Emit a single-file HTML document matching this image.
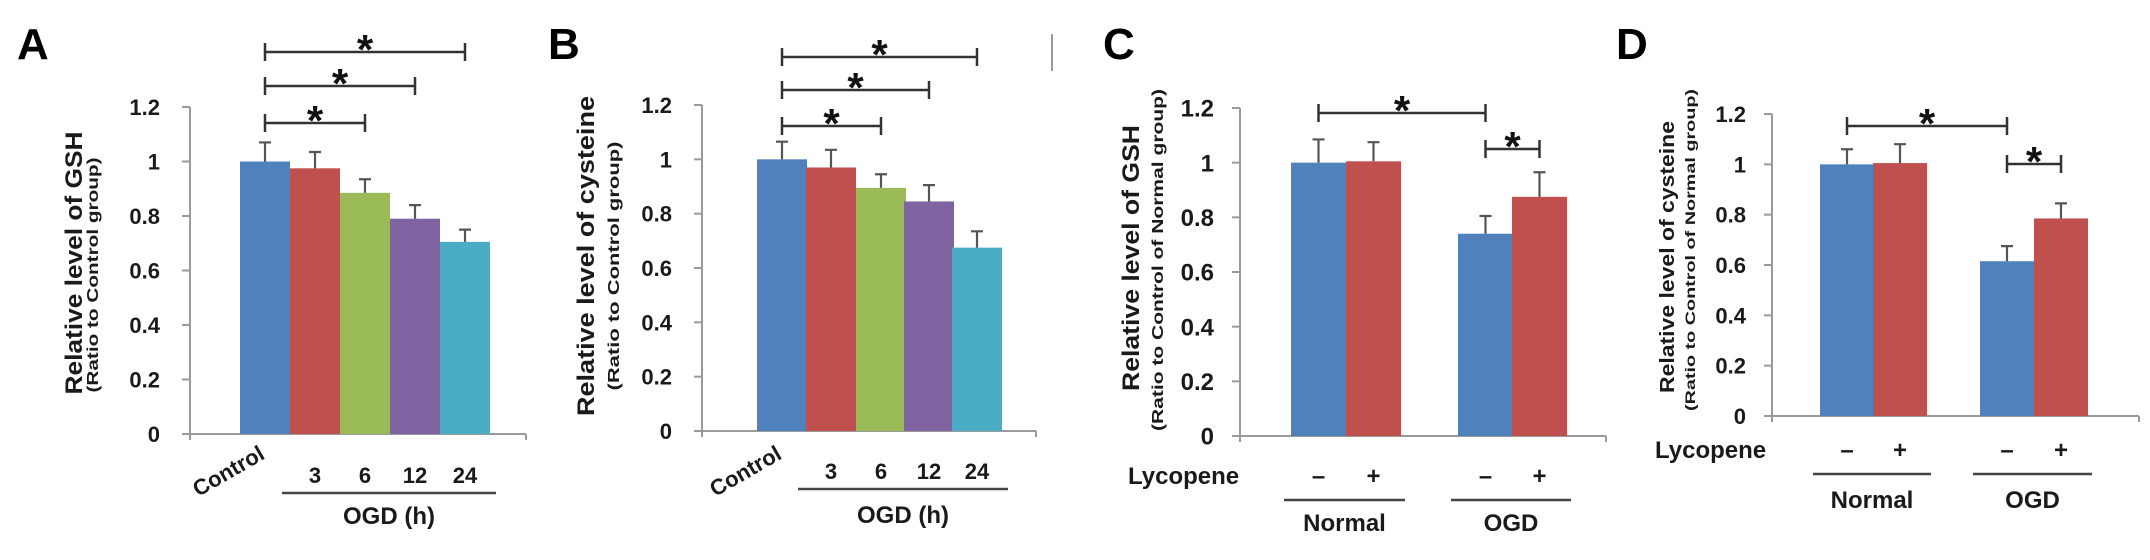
<!DOCTYPE html>
<html><head><meta charset="utf-8"><style>
html,body{margin:0;padding:0;background:#fff}
svg{display:block;font-family:"Liberation Sans",sans-serif;font-weight:bold}
</style></head><body>
<svg id="fig" width="2150" height="560" viewBox="0 0 2150 560" xmlns="http://www.w3.org/2000/svg">
<line x1="1052" y1="34" x2="1052" y2="71" stroke="#999" stroke-width="2"/>
</svg>
<script>
const yTicks = [0, 0.2, 0.4, 0.6, 0.8, 1, 1.2];
const yTickLabels = ["0", "0.2", "0.4", "0.6", "0.8", "1", "1.2"];
const timeCats = ["Control", "3", "6", "12", "24"];
const lycoCats = ["–", "+", "–", "+"];
const aValues = [1.0, 0.975, 0.885, 0.79, 0.705];
const aErrors = [0.07, 0.06, 0.05, 0.05, 0.045];
const bValues = [1.0, 0.97, 0.895, 0.845, 0.675];
const bErrors = [0.065, 0.065, 0.05, 0.06, 0.06];
const cValues = [1.0, 1.005, 0.74, 0.875];
const cErrors = [0.085, 0.07, 0.065, 0.09];
const dValues = [1.0, 1.005, 0.615, 0.785];
const dErrors = [0.06, 0.075, 0.06, 0.06];
const aSig = [[0, 4], [0, 3], [0, 2]];
const bSig = [[0, 4], [0, 3], [0, 2]];
const cSig = [[0, 2], [2, 3]];
const dSig = [[0, 2], [2, 3]];

const NS = "http://www.w3.org/2000/svg";
const svg = document.getElementById('fig');
const timeColors = ["#4F81BD", "#C0504D", "#9BBB59", "#8064A2", "#4BACC6"];
const lycoColors = ["#4F81BD", "#C0504D", "#4F81BD", "#C0504D"];

function mk(tag, attrs, parent) {
  const e = document.createElementNS(NS, tag);
  for (const k in attrs) e.setAttribute(k, attrs[k]);
  (parent || svg).appendChild(e);
  return e;
}

function panel(p) {
  const g = mk('g', {});
  
  
  const ys = v => p.y0 - (v / 1.2) * (p.y0 - p.y12);
  const xs = i => p.barX[i];
  const bw = p.barW;
  const L = mk('text', {x: p.letterX, y: 59, 'font-size': 44, fill: '#000'}, g);
  L.textContent = p.id;
  
  
  const ya = mk('line', {x1: p.axX, y1: p.y12, x2: p.axX, y2: p.y0 + 6, stroke: '#9a9a9a', 'stroke-width': 2}, g);
  
  
  const xa = mk('line', {x1: p.axX - 8, y1: p.y0, x2: p.axRight, y2: p.y0, stroke: '#9a9a9a', 'stroke-width': 2}, g);
  
  
  mk('line', {x1: p.axRight, y1: p.y0, x2: p.axRight, y2: p.y0 + 6, stroke: '#9a9a9a', 'stroke-width': 2}, g);
  yTicks.forEach((t, i) => {
    const y = ys(t);
    mk('line', {x1: p.axX - 8, y1: y, x2: p.axX, y2: y, stroke: '#9a9a9a', 'stroke-width': 2}, g);
    const tl = mk('text', {x: p.axX - p.lblGap, y: y + p.tickFs * 0.36, 'font-size': p.tickFs, 'text-anchor': 'end', fill: '#1a1a1a'}, g);
    tl.textContent = yTickLabels[i];
    
    
  });
  const t1 = mk('text', {x: 0, y: 0, 'font-size': p.titleFs, 'text-anchor': 'middle', fill: '#1a1a1a', textLength: p.t1Len, lengthAdjust: 'spacingAndGlyphs', transform: `translate(${p.t1X},${p.t1C}) rotate(-90)`}, g);
  t1.textContent = p.title;
  
  
  const t2 = mk('text', {x: 0, y: 0, 'font-size': p.subFs, 'text-anchor': 'middle', fill: '#1a1a1a', textLength: p.t2Len, lengthAdjust: 'spacingAndGlyphs', transform: `translate(${p.t2X},${p.t2C}) rotate(-90)`}, g);
  t2.textContent = p.sub;
  
  
  p.values.forEach((v, i) => {
    const r = mk('rect', {x: xs(i), y: ys(v), width: bw, height: p.y0 - ys(v), fill: p.colors[i]}, g);
    
    
    const cx = xs(i) + bw / 2, top = ys(v + p.errors[i]);
    const e = mk('path', {d: `M${cx},${ys(v)}V${top}M${cx - 6},${top}H${cx + 6}`, stroke: '#555', 'stroke-width': 2.2, fill: 'none'}, g);
    
    
  });
  p.sig.forEach((s, k) => {
    const y = p.sigY[k];
    const x1 = xs(s[0]) + bw / 2, x2 = xs(s[1]) + bw / 2;
    const l = mk('path', {d: `M${x1},${y - 9}V${y + 9}M${x1},${y}H${x2}M${x2},${y - 9}V${y + 9}`, stroke: '#333', 'stroke-width': 2.5, fill: 'none'}, g);
    
    
    const st = mk('text', {x: (x1 + x2) / 2, y: y + 12, 'font-size': 42, 'text-anchor': 'middle', fill: '#111'}, g);
    st.textContent = '*';
    
    
  });
  p.extra(g, xs, bw);
}

function txt(g, x, y, fs, s, name, anchor, tr) {
  const t = mk('text', {x: x, y: y, 'font-size': fs, 'text-anchor': anchor || 'middle', fill: '#1a1a1a'}, g);
  if (tr) t.setAttribute('transform', tr);
  t.textContent = s;
  
  
  return t;
}

function timeExtra(numY, ulY, ogdY, ctrlX, ctrlY) {
  return (g, xs, bw) => {
    for (let i = 1; i < timeCats.length; i++) txt(g, xs(i) + bw / 2, numY, 22, timeCats[i], 'x-tick-label');
    txt(g, ctrlX, ctrlY, 22, timeCats[0], 'x-tick-label', 'end', `rotate(-30 ${ctrlX} ${ctrlY})`);
    const x1 = xs(1) - 8, x2 = xs(4) + bw + 6;
    const u = mk('line', {x1: x1, y1: ulY, x2: x2, y2: ulY, stroke: '#444', 'stroke-width': 2.5}, g);
    
    
    txt(g, (x1 + x2) / 2, ogdY, 24, 'OGD (h)', 'x-group-label');
  };
}

function lycoExtra(pmY, lycX, ulY, grpY) {
  return (g, xs, bw) => {
    for (let i = 0; i < lycoCats.length; i++) txt(g, xs(i) + bw / 2, pmY, 24, lycoCats[i], 'x-tick-label');
    txt(g, lycX, pmY, 24, 'Lycopene', 'lycopene-label', 'start');
    [[0, 'Normal'], [2, 'OGD']].forEach(([i, name]) => {
      const x1 = xs(i) - 7, x2 = xs(i + 1) + bw + 4;
      const u = mk('line', {x1: x1, y1: ulY, x2: x2, y2: ulY, stroke: '#444', 'stroke-width': 2.5}, g);
      
      
      txt(g, (x1 + x2) / 2, grpY, 24, name, 'x-group-label');
    });
  };
}

panel({id: 'A', letterX: 17, axX: 190, axRight: 526, y0: 434, y12: 107, barX: [240, 290, 340, 390, 440], barW: 50,
  values: aValues, errors: aErrors, colors: timeColors, sig: aSig, sigY: [52, 86, 123],
  tickFs: 22, lblGap: 30, title: 'Relative level of GSH', sub: '(Ratio to Control group)',
  titleFs: 24, subFs: 16, t1X: 82, t1C: 263, t1Len: 263, t2X: 98, t2C: 275, t2Len: 235,
  extra: timeExtra(483, 493, 524, 266, 458)});
panel({id: 'B', letterX: 548, axX: 702, axRight: 1036, y0: 431, y12: 105, barX: [757, 806, 856, 904, 952], barW: 50,
  values: bValues, errors: bErrors, colors: timeColors, sig: bSig, sigY: [57, 90, 126],
  tickFs: 22, lblGap: 30, title: 'Relative level of cysteine', sub: '(Ratio to Control group)',
  titleFs: 24, subFs: 16, t1X: 594, t1C: 256, t1Len: 320, t2X: 619, t2C: 266, t2Len: 249,
  extra: timeExtra(479, 489, 523, 783, 458)});
panel({id: 'C', letterX: 1103, axX: 1240, axRight: 1606, y0: 436, y12: 108, barX: [1291, 1346, 1458, 1512], barW: 55,
  values: cValues, errors: cErrors, colors: lycoColors, sig: cSig, sigY: [113, 149],
  tickFs: 24, lblGap: 26, title: 'Relative level of GSH', sub: '(Ratio to Control of Normal group)',
  titleFs: 24, subFs: 16, t1X: 1139, t1C: 258, t1Len: 266, t2X: 1163, t2C: 260, t2Len: 342,
  extra: lycoExtra(484, 1128, 500, 531)});
panel({id: 'D', letterX: 1616, axX: 1772, axRight: 2139, y0: 416, y12: 114, barX: [1820, 1873, 1980, 2034], barW: 54,
  values: dValues, errors: dErrors, colors: lycoColors, sig: dSig, sigY: [126, 164],
  tickFs: 22, lblGap: 26, title: 'Relative level of cysteine', sub: '(Ratio to Control of Normal group)',
  titleFs: 20, subFs: 14, t1X: 1674, t1C: 257, t1Len: 272, t2X: 1695, t2C: 250, t2Len: 322,
  extra: lycoExtra(458, 1655, 474, 508)});
</script>
</body></html>
